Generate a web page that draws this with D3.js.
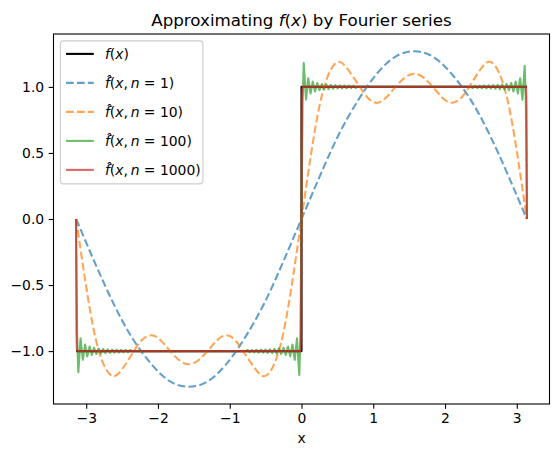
<!DOCTYPE html>
<html>
<head>
<meta charset="utf-8">
<script src="https://cdn.jsdelivr.net/npm/d3@7"></script>
<style>
body { margin: 0; background: white; }
svg { display: block; font-family: "DejaVu Sans", sans-serif; }
</style>
</head>
<body>
<div id="canvas"></div>
<script>
"use strict"
let svgWidth = 559;
let svgHeight = 457;

let marginLeft = 53.5;
let marginRight = 9.5;
let marginTop = 34;
let marginBottom = 53;

// f(x): the square wave
let xsTrue = [-3.1416, 0, 0, 3.1416];
let ysTrue = [-1, -1, 1, 1];

// n = 1
let xs1 = [-3.14, -2.88, -2.62, -2.36, -2.09, -1.83, -1.57, -1.31, -1.05, -0.79, -0.52, -0.26, 0,
    0.26, 0.52, 0.79, 1.05, 1.31, 1.57, 1.83, 2.09, 2.36, 2.62, 2.88, 3.14];
let ys1 = [0, -0.33, -0.64, -0.90, -1.10, -1.23, -1.27, -1.23, -1.10, -0.90, -0.64, -0.33, 0,
    0.33, 0.64, 0.90, 1.10, 1.23, 1.27, 1.23, 1.10, 0.90, 0.64, 0.33, 0];

// n = 10
let xs10 = [-3.14, -3.01, -2.88, -2.75, -2.62, -2.49, -2.36, -2.23, -2.09, -1.96, -1.83, -1.70,
    -1.57, -1.44, -1.31, -1.18, -1.05, -0.92, -0.79, -0.65, -0.52, -0.39, -0.26, -0.13, 0,
    0.13, 0.26, 0.39, 0.52, 0.65, 0.79, 0.92, 1.05, 1.18, 1.31, 1.44, 1.57,
    1.70, 1.83, 1.96, 2.09, 2.23, 2.36, 2.49, 2.62, 2.75, 2.88, 3.01, 3.14];
let ys10 = [0, -0.48, -0.88, -1.11, -1.19, -1.13, -1.02, -0.92, -0.88, -0.92, -1.00, -1.07,
    -1.10, -1.07, -1.00, -0.92, -0.88, -0.92, -1.02, -1.13, -1.19, -1.11, -0.88, -0.48, 0,
    0.48, 0.88, 1.11, 1.19, 1.13, 1.02, 0.92, 0.88, 0.92, 1.00, 1.07, 1.10,
    1.07, 1.00, 0.92, 0.88, 0.92, 1.02, 1.13, 1.19, 1.11, 0.88, 0.48, 0];

// n = 100
let xs100 = [-3.142, -3.126, -3.110, -3.079, -3.047, -3.016, -2.985, -2.953, -2.922, -2.891, -2.859,
    -2.828, -2.796, -2.765, -2.734, -2.702, -2.671, -2.639, -2.608, -2.577, -2.545, -2.514,
    -2.482, -2.451, -2.419, -2.388, -2.36,
    -0.78, -0.754, -0.723, -0.691, -0.660, -0.628, -0.597, -0.565, -0.534, -0.503, -0.471, -0.440,
    -0.408, -0.377, -0.346, -0.314, -0.283, -0.251, -0.220, -0.188, -0.157, -0.126, -0.094,
    -0.063, -0.031, -0.016, 0,
    0.016, 0.031, 0.063, 0.094, 0.126, 0.157, 0.188, 0.220, 0.251, 0.283, 0.314, 0.346, 0.377,
    0.408, 0.440, 0.471, 0.503, 0.534, 0.565, 0.597, 0.628, 0.660, 0.691, 0.723, 0.754, 0.78,
    2.36, 2.388, 2.419, 2.451, 2.482, 2.514, 2.545, 2.577, 2.608, 2.639, 2.671, 2.702, 2.734,
    2.765, 2.796, 2.828, 2.859, 2.891, 2.922, 2.953, 2.985, 3.016, 3.047, 3.079, 3.110, 3.126, 3.142];
let ys100 = [0, -0.9, -1.16, -0.903, -1.066, -0.95, -1.04, -0.966, -1.029, -0.975, -1.022,
    -0.98, -1.018, -0.983, -1.015, -0.986, -1.013, -0.988, -1.012, -0.989, -1.011, -0.99,
    -1.01, -0.991, -1.009, -0.992, -1,
    -1, -0.992, -1.009, -0.991, -1.01, -0.99, -1.011, -0.989, -1.012, -0.988, -1.013, -0.986,
    -1.015, -0.983, -1.018, -0.98, -1.022, -0.975, -1.029, -0.966, -1.04, -0.95, -1.066,
    -0.903, -1.18, -0.9, 0,
    0.9, 1.18, 0.903, 1.066, 0.95, 1.04, 0.966, 1.029, 0.975, 1.022, 0.98, 1.018, 0.983,
    1.015, 0.986, 1.013, 0.988, 1.012, 0.989, 1.011, 0.99, 1.01, 0.991, 1.009, 0.992, 1,
    1, 0.992, 1.009, 0.991, 1.01, 0.99, 1.011, 0.989, 1.012, 0.988, 1.013, 0.986, 1.015,
    0.983, 1.018, 0.98, 1.022, 0.975, 1.029, 0.966, 1.04, 0.95, 1.066, 0.903, 1.16, 0.9, 0];

// n = 1000
let xs1000 = [-3.1416, -3.136, -3.130, -3.122, -0.019, -0.011, -0.005, 0,
    0.005, 0.011, 0.019, 3.122, 3.130, 3.136, 3.1416];
let ys1000 = [0, -0.85, -0.99, -1, -1, -0.99, -0.85, 0,
    0.85, 0.99, 1, 1, 0.99, 0.85, 0];

let xTicks = [-3, -2, -1, 0, 1, 2, 3];
let yTicks = [-1.0, -0.5, 0.0, 0.5, 1.0];
let nLabels = [null, "1", "10", "100", "1000"];

let series = [
    {xs: xsTrue, ys: ysTrue, color: "#000000", opacity: 1, dash: null},
    {xs: xs1, ys: ys1, color: "#1f77b4", opacity: 0.7, dash: "7.7,3.3"},
    {xs: xs10, ys: ys10, color: "#ff7f0e", opacity: 0.7, dash: "7.7,3.3"},
    {xs: xs100, ys: ys100, color: "#2ca02c", opacity: 0.7, dash: null},
    {xs: xs1000, ys: ys1000, color: "#d62728", opacity: 0.7, dash: null}
];

let svg = d3.select("#canvas")
    .append("svg")
    .attr("width", svgWidth)
    .attr("height", svgHeight);

let xScale = d3.scaleLinear()
    .domain([-3.456, 3.456])
    .range([marginLeft, svgWidth - marginRight]);

let yScale = d3.scaleLinear()
    .domain([-1.4005, 1.4005])
    .range([svgHeight - marginBottom, marginTop]);

svg.append("clipPath")
    .attr("id", "plotClip")
    .append("rect")
    .attr("x", marginLeft)
    .attr("y", marginTop)
    .attr("width", svgWidth - marginLeft - marginRight)
    .attr("height", svgHeight - marginTop - marginBottom);

let lineGroup = svg.append("g").attr("clip-path", "url(#plotClip)");

for (let i = 0; i < series.length; i++) {
    let s = series[i];
    let pts = s.xs.map(function(x, j) { return [x, s.ys[j]]; });
    let line = d3.line()
        .x(function(d) { return xScale(d[0]); })
        .y(function(d) { return yScale(d[1]); })
        .curve(i == 1 || i == 2 ? d3.curveNatural : d3.curveLinear);
    lineGroup.append("path")
        .attr("d", line(pts))
        .attr("fill", "none")
        .attr("stroke", s.color)
        .attr("stroke-opacity", s.opacity)
        .attr("stroke-width", 2.08)
        .attr("stroke-linejoin", "round")
        .attr("stroke-dasharray", s.dash);
}

// axes
let xAxis = svg.append("g")
    .attr("transform", "translate(0," + (svgHeight - marginBottom) + ")")
    .call(d3.axisBottom(xScale).tickValues(xTicks).tickSize(4.86).tickPadding(4.5)
        .tickFormat(d3.format("d")));

let yAxis = svg.append("g")
    .attr("transform", "translate(" + marginLeft + ",0)")
    .call(d3.axisLeft(yScale).tickValues(yTicks).tickSize(4.86).tickPadding(4.5)
        .tickFormat(d3.format(".1f")));

[xAxis, yAxis].forEach(function(a) {
    a.select(".domain").remove();
    a.selectAll("line").attr("stroke", "black").attr("stroke-width", 1.1);
    a.selectAll("text")
        .attr("font-family", "DejaVu Sans")
        .attr("font-size", 13.9)
        .attr("fill", "black");
});

svg.append("rect")
    .attr("x", marginLeft)
    .attr("y", marginTop)
    .attr("width", svgWidth - marginLeft - marginRight)
    .attr("height", svgHeight - marginTop - marginBottom)
    .attr("fill", "none")
    .attr("stroke", "black")
    .attr("stroke-width", 1.1);

svg.append("text")
    .attr("x", (marginLeft + svgWidth - marginRight) / 2)
    .attr("y", 443)
    .attr("text-anchor", "middle")
    .attr("font-size", 13.9)
    .text("x");

let title = svg.append("text")
    .attr("x", (marginLeft + svgWidth - marginRight) / 2)
    .attr("y", 25.7)
    .attr("text-anchor", "middle")
    .attr("font-size", 16.7);
title.append("tspan").text("Approximating ");
title.append("tspan").attr("font-style", "italic").text("f");
title.append("tspan").text("(");
title.append("tspan").attr("font-style", "italic").text("x");
title.append("tspan").text(") by Fourier series");

// legend
let legendX = 60.4;
let legendY = 40.9;

svg.append("rect")
    .attr("x", legendX)
    .attr("y", legendY)
    .attr("width", 142.5)
    .attr("height", 143)
    .attr("rx", 2.8)
    .attr("fill", "white")
    .attr("fill-opacity", 0.8)
    .attr("stroke", "#cccccc")
    .attr("stroke-width", 1.1);

for (let i = 0; i < series.length; i++) {
    let cy = legendY + 13 + i * 29;
    svg.append("line")
        .attr("x1", legendX + 5.6)
        .attr("x2", legendX + 5.6 + 27.8)
        .attr("y1", cy)
        .attr("y2", cy)
        .attr("stroke", series[i].color)
        .attr("stroke-opacity", series[i].opacity)
        .attr("stroke-width", 2.08)
        .attr("stroke-dasharray", series[i].dash);

    let tx = legendX + 5.6 + 27.8 + 11.1;
    let label = svg.append("text")
        .attr("x", tx)
        .attr("y", cy + 5)
        .attr("font-size", 13.9);
    label.append("tspan")
        .attr("font-style", "italic")
        .text(nLabels[i] == null ? "f" : "f\u0302");
    label.append("tspan").text("(");
    label.append("tspan").attr("font-style", "italic").text("x");
    if (nLabels[i] == null) {
        label.append("tspan").text(")");
    } else {
        label.append("tspan").text(",\u2009");
        label.append("tspan").attr("font-style", "italic").text("n");
        label.append("tspan").text(" = " + nLabels[i] + ")");
    }
}
</script>
</body>
</html>
